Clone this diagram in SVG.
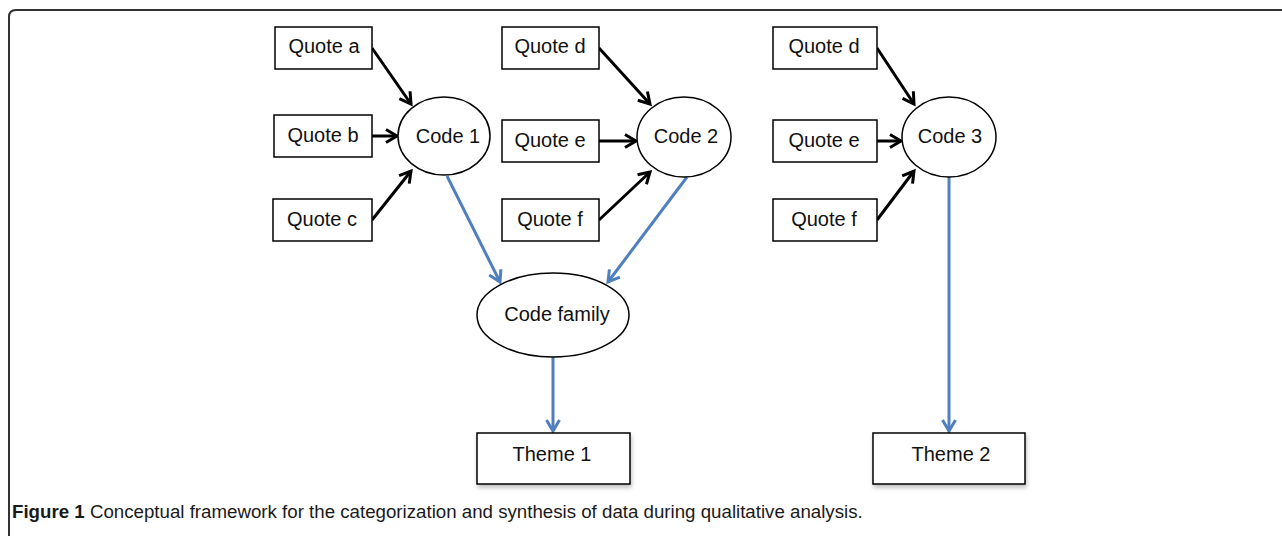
<svg xmlns="http://www.w3.org/2000/svg" width="1282" height="536" viewBox="0 0 1282 536">
  <style>
    .box { fill: #ffffff; stroke: #000000; stroke-width: 1.5; }
    .oval { fill: #ffffff; stroke: #000000; stroke-width: 1.5; }
    .lbl { font-family: "Liberation Sans", Arial, sans-serif; font-size: 20px; fill: #111111; text-anchor: middle; }
    .feed { stroke: #000000; stroke-width: 3; fill: none; marker-end: url(#headBlack); }
    .roll { stroke: #4f80bd; stroke-width: 3; fill: none; marker-end: url(#headBlue); }
    .cap { font-family: "Liberation Sans", Arial, sans-serif; font-size: 18.7px; fill: #1a1a1a; }
  </style>
  <defs>
    <marker id="headBlack" viewBox="0 0 16 16" refX="13" refY="8" markerWidth="16" markerHeight="16" markerUnits="userSpaceOnUse" orient="auto">
      <path d="M2,1.5 L13,8 L2,14.5" fill="none" stroke="#000000" stroke-width="3"/>
    </marker>
    <marker id="headBlue" viewBox="0 0 16 16" refX="13" refY="8" markerWidth="16" markerHeight="16" markerUnits="userSpaceOnUse" orient="auto">
      <path d="M2,1.5 L13,8 L2,14.5" fill="none" stroke="#4f80bd" stroke-width="3"/>
    </marker>
    <filter id="shade" x="-10%" y="-10%" width="130%" height="140%">
      <feDropShadow dx="1" dy="3" stdDeviation="2" flood-color="#000000" flood-opacity="0.25"/>
    </filter>
  </defs>

  <rect width="1282" height="536" fill="#ffffff"/>

  <!-- panel frame: rounded top-left corner, open at right and bottom -->
  <path d="M9,536 V17 Q9,10 16,10 H1282" fill="none" stroke="#333333" stroke-width="2"/>

  <!-- connectors -->
  <g id="connectors">
    <line class="feed" x1="372" y1="48" x2="411" y2="104"/>
    <line class="feed" x1="372" y1="136" x2="397" y2="136"/>
    <line class="feed" x1="372" y1="220" x2="411" y2="171"/>

    <line class="feed" x1="599" y1="48" x2="650" y2="104"/>
    <line class="feed" x1="599" y1="141" x2="636" y2="141"/>
    <line class="feed" x1="599" y1="220" x2="650" y2="172"/>

    <line class="feed" x1="877" y1="48" x2="914" y2="104"/>
    <line class="feed" x1="877" y1="141" x2="901" y2="141"/>
    <line class="feed" x1="877" y1="220" x2="914" y2="171"/>

    <line class="roll" x1="447" y1="176" x2="500" y2="282"/>
    <line class="roll" x1="687" y1="177" x2="608" y2="282"/>
    <line class="roll" x1="553" y1="357" x2="553" y2="431"/>
    <line class="roll" x1="949" y1="177" x2="949" y2="431"/>
  </g>

  <!-- column 1 -->
  <g id="quote-a"><rect class="box" x="275" y="27" width="97" height="42"/><text class="lbl" x="324" y="53">Quote a</text></g>
  <g id="quote-b"><rect class="box" x="274" y="115" width="98" height="42"/><text class="lbl" x="323" y="142">Quote b</text></g>
  <g id="quote-c"><rect class="box" x="273" y="199" width="99" height="42"/><text class="lbl" x="322" y="226">Quote c</text></g>
  <g id="code-1"><ellipse class="oval" cx="444" cy="136" rx="46" ry="39"/><text class="lbl" x="448" y="143">Code 1</text></g>

  <!-- column 2 -->
  <g id="quote-d1"><rect class="box" x="502" y="27" width="97" height="42"/><text class="lbl" x="550" y="53">Quote d</text></g>
  <g id="quote-e1"><rect class="box" x="502" y="120" width="97" height="42"/><text class="lbl" x="550" y="147">Quote e</text></g>
  <g id="quote-f1"><rect class="box" x="502" y="199" width="97" height="42"/><text class="lbl" x="550" y="226">Quote f</text></g>
  <g id="code-2"><ellipse class="oval" cx="684" cy="137" rx="47" ry="40"/><text class="lbl" x="686" y="143">Code 2</text></g>

  <!-- column 3 -->
  <g id="quote-d2"><rect class="box" x="773" y="27" width="104" height="42"/><text class="lbl" x="824" y="53">Quote d</text></g>
  <g id="quote-e2"><rect class="box" x="773" y="120" width="104" height="42"/><text class="lbl" x="824" y="147">Quote e</text></g>
  <g id="quote-f2"><rect class="box" x="773" y="199" width="104" height="42"/><text class="lbl" x="824" y="226">Quote f</text></g>
  <g id="code-3"><ellipse class="oval" cx="949" cy="137" rx="47" ry="40"/><text class="lbl" x="950" y="143">Code 3</text></g>

  <!-- grouping and themes -->
  <g id="code-family"><ellipse class="oval" cx="553" cy="315" rx="76" ry="42"/><text class="lbl" x="557" y="321">Code family</text></g>
  <g id="theme-1"><rect class="box" x="477" y="433" width="153" height="51" filter="url(#shade)"/><text class="lbl" x="552" y="461">Theme 1</text></g>
  <g id="theme-2"><rect class="box" x="873" y="433" width="152" height="51" filter="url(#shade)"/><text class="lbl" x="951" y="461">Theme 2</text></g>

  <!-- caption -->
  <text class="cap" x="12" y="518"><tspan font-weight="bold">Figure 1</tspan> Conceptual framework for the categorization and synthesis of data during qualitative analysis.</text>
</svg>
